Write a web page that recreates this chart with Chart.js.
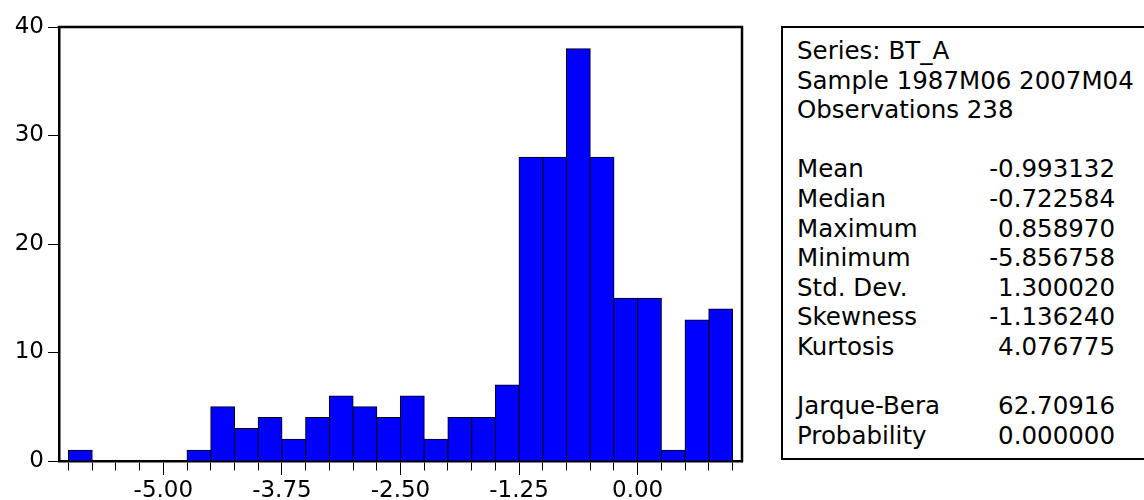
<!DOCTYPE html>
<html>
<head>
<meta charset="utf-8">
<title>BT_A histogram</title>
<script src="https://cdn.jsdelivr.net/npm/chart.js@4.4.1/dist/chart.umd.min.js"></script>
<style>
  html, body { margin: 0; padding: 0; background: #fff; width: 1144px; height: 500px; overflow: hidden; }
  body { font-family: 'DejaVu Sans', sans-serif; color: #000; }
  #wrap { position: absolute; left: 0; top: 0; width: 760px; height: 500px; }
  #stats { position: absolute; left: 781px; top: 26px; width: 430px; height: 430px; border: 2px solid #000; }
  .row { position: absolute; left: 14px; width: 318px; height: 30px; line-height: 30px; font-size: 24.5px; white-space: nowrap; }
  .row .v { position: absolute; right: 0; top: 0; }
</style>
</head>
<body>
<div id="wrap"><canvas id="hist"></canvas></div>
<div id="stats"></div>
<script>
// Histogram bins (lower edge of each 0.25-wide bin) and their counts
const binStarts = [-6.00, -5.75, -5.50, -5.25, -5.00, -4.75, -4.50, -4.25, -4.00, -3.75,
                   -3.50, -3.25, -3.00, -2.75, -2.50, -2.25, -2.00, -1.75, -1.50, -1.25,
                   -1.00, -0.75, -0.50, -0.25, 0.00, 0.25, 0.50, 0.75];
const counts = [1, 0, 0, 0, 0, 1, 5, 3, 4, 2,
                4, 6, 5, 4, 6, 2, 4, 4, 7, 28,
                28, 38, 28, 15, 15, 1, 13, 14];
const binWidth = 0.25;

// Axis tick values
const yTicks = [0, 10, 20, 30, 40];
const xLabelTicks = [-5.00, -3.75, -2.50, -1.25, 0.00];

// Descriptive statistics panel
const headerLines = ['Series: BT_A', 'Sample 1987M06 2007M04', 'Observations 238'];
const statNames = ['Mean', 'Median', 'Maximum', 'Minimum', 'Std. Dev.', 'Skewness', 'Kurtosis'];
const statValues = ['-0.993132', '-0.722584', '0.858970', '-5.856758', '1.300020', '-1.136240', '4.076775'];
const testNames = ['Jarque-Bera', 'Probability'];
const testValues = ['62.70916', '0.000000'];

const isLabeled = v => xLabelTicks.some(t => Math.abs(t - v) < 1e-6);

// Top and right sides of the plot frame
const framePlugin = {
  id: 'frame',
  afterDraw(chart) {
    const { ctx, chartArea: a } = chart;
    ctx.save();
    ctx.strokeStyle = '#000';
    ctx.lineWidth = 2.5;
    ctx.beginPath();
    ctx.moveTo(a.left - 1.25, a.top);
    ctx.lineTo(a.right, a.top);
    ctx.lineTo(a.right, a.bottom + 1.25);
    ctx.stroke();
    ctx.restore();
  }
};

Chart.defaults.font.family = "'DejaVu Sans', sans-serif";
Chart.defaults.color = '#000';

new Chart(document.getElementById('hist'), {
  type: 'bar',
  data: {
    datasets: [{
      data: binStarts.map((s, i) => ({ x: s + binWidth / 2, y: counts[i] })),
      backgroundColor: '#0000FF',
      borderColor: '#000',
      borderWidth: 1,
      inflateAmount: 0.5,
      barPercentage: 1,
      categoryPercentage: 1
    }]
  },
  options: {
    responsive: true,
    maintainAspectRatio: false,
    animation: false,
    devicePixelRatio: 1,
    layout: { padding: { top: 27, right: 18, bottom: 0, left: 0 } },
    plugins: { legend: { display: false }, tooltip: { enabled: false } },
    scales: {
      x: {
        type: 'linear',
        min: -6.1,
        max: 1.1,
        offset: false,
        z: 1,
        afterFit: s => { s.height = 39; },
        ticks: {
          stepSize: 0.25,
          includeBounds: false,
          autoSkip: false,
          maxRotation: 0,
          padding: 2,
          font: { size: 23 },
          callback: v => isLabeled(v) ? Number(v).toFixed(2) : ''
        },
        grid: {
          offset: false,
          drawOnChartArea: false,
          tickLength: 14,
          tickColor: '#000',
          tickWidth: 1,
          tickBorderDash: c => (c.tick && isLabeled(c.tick.value)) ? [] : [8, 40]
        },
        border: { display: true, color: '#000', width: 2.5 }
      },
      y: {
        min: 0,
        max: 40,
        z: 1,
        afterFit: s => { s.width = 59; },
        afterBuildTicks: s => { s.ticks = yTicks.map(v => ({ value: v })); },
        ticks: { padding: 4, font: { size: 23 } },
        grid: { drawOnChartArea: false, tickLength: 11, tickColor: '#000', tickWidth: 1 },
        border: { display: true, color: '#000', width: 2.5 }
      }
    }
  },
  plugins: [framePlugin]
});

// Statistics panel rows
const stats = document.getElementById('stats');
const lines = [];
headerLines.forEach(t => lines.push([t, '']));
lines.push(null);
statNames.forEach((n, i) => lines.push([n, statValues[i]]));
lines.push(null);
testNames.forEach((n, i) => lines.push([n, testValues[i]]));
lines.forEach((ln, i) => {
  if (!ln) return;
  const row = document.createElement('div');
  row.className = 'row';
  row.style.top = (8 + i * 29.6) + 'px';
  row.textContent = ln[0];
  if (ln[1]) {
    const v = document.createElement('span');
    v.className = 'v';
    v.textContent = ln[1];
    row.appendChild(v);
  }
  stats.appendChild(row);
});
</script>
</body>
</html>
